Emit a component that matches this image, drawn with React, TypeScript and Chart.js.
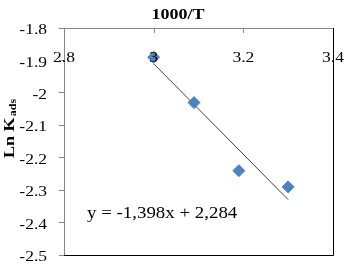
import React, { useEffect, useRef } from "react";
import { Chart, registerables } from "chart.js";

Chart.register(...registerables);

const xValues = [3.0, 3.09, 3.19, 3.3];
const yValues = [-1.89, -2.03, -2.24, -2.29];
const slope = -1.398;
const intercept = 2.284;
const equationText = "y = -1,398x + 2,284";
const xTickValues = [2.8, 3.0, 3.2, 3.4];
const xTickLabels = ["2.8", "3", "3.2", "3.4"];
const yTickValues = [-1.8, -1.9, -2.0, -2.1, -2.2, -2.3, -2.4, -2.5];
const yTickLabels = ["-1.8", "-1.9", "-2", "-2.1", "-2.2", "-2.3", "-2.4", "-2.5"];
const xTitle = "1000/T";
const yTitleMain = "Ln K";
const yTitleSub = "ads";

const FONT = "'Liberation Serif', 'Times New Roman', serif";
const GRAY = "#868686";
const STRETCH = 1.25;

function stretchedText(ctx: any, text: string, x: number, y: number, align: string, sx: number) {
  const w = ctx.measureText(text).width * sx;
  let left = x;
  if (align === "center") left = x - w / 2;
  else if (align === "right") left = x - w;
  ctx.save();
  ctx.translate(left, y);
  ctx.scale(sx, 1);
  ctx.textAlign = "left";
  ctx.fillText(text, 0, 0);
  ctx.restore();
}

const overlayPlugin = {
  id: "overlay",
  afterDraw(chart: any) {
    const { ctx, chartArea } = chart;
    const xs = chart.scales.x;
    const ys = chart.scales.y;
    const { left, top, right, bottom } = chartArea;
    ctx.save();
    // inward tick marks on the top axis
    ctx.strokeStyle = GRAY;
    ctx.lineWidth = 1;
    xTickValues.forEach((v) => {
      const px = Math.round(xs.getPixelForValue(v)) + 0.5;
      ctx.beginPath();
      ctx.moveTo(px, top);
      ctx.lineTo(px, top + 5);
      ctx.stroke();
    });
    // black right and bottom frame
    ctx.strokeStyle = "#000";
    ctx.beginPath();
    ctx.moveTo(Math.round(right) + 0.5, top);
    ctx.lineTo(Math.round(right) + 0.5, Math.round(bottom) + 0.5);
    ctx.lineTo(left, Math.round(bottom) + 0.5);
    ctx.stroke();
    ctx.fillStyle = "#000";
    ctx.textBaseline = "middle";
    // y tick labels
    ctx.font = `14px ${FONT}`;
    yTickValues.forEach((v, i) => {
      stretchedText(ctx, yTickLabels[i], 47, ys.getPixelForValue(v) + 2.5, "right", STRETCH);
    });
    // x tick labels, drawn inside the plot as in the original
    xTickValues.forEach((v, i) => {
      stretchedText(ctx, xTickLabels[i], xs.getPixelForValue(v), top + 30, "center", STRETCH);
    });
    // x title
    ctx.font = `bold 15px ${FONT}`;
    stretchedText(ctx, xTitle, 178, 15, "center", 1.2);
    // equation
    ctx.font = `16px ${FONT}`;
    ctx.textBaseline = "alphabetic";
    stretchedText(ctx, equationText, left + 23, 218, "left", 1.18);
    // y title
    ctx.translate(15, 129);
    ctx.rotate(-Math.PI / 2);
    ctx.scale(1.2, 1);
    ctx.textAlign = "left";
    ctx.font = `bold 15px ${FONT}`;
    const wMain = ctx.measureText(yTitleMain).width;
    ctx.font = `bold 10px ${FONT}`;
    const wSub = ctx.measureText(yTitleSub).width;
    const start = -(wMain + wSub) / 2;
    ctx.font = `bold 15px ${FONT}`;
    ctx.fillText(yTitleMain, start, -1);
    ctx.font = `bold 10px ${FONT}`;
    ctx.fillText(yTitleSub, start + wMain + 1, 1);
    ctx.restore();
  },
};

export default function App() {
  const ref = useRef<HTMLCanvasElement | null>(null);
  useEffect(() => {
    document.body.style.margin = "0";
    const xMin = Math.min(...xValues);
    const xMax = Math.max(...xValues);
    const chart = new Chart(ref.current as HTMLCanvasElement, {
      type: "scatter",
      data: {
        datasets: [
          {
            type: "line",
            data: [
              { x: xMin, y: slope * xMin + intercept },
              { x: xMax, y: slope * xMax + intercept },
            ],
            borderColor: "#404040",
            borderWidth: 1,
            pointRadius: 0,
            fill: false,
            order: 2,
          } as any,
          {
            data: xValues.map((x, i) => ({ x, y: yValues[i] })),
            pointStyle: "rectRot",
            pointRadius: 6,
            backgroundColor: "#4F81BD",
            borderColor: "#4F81BD",
            borderWidth: 1,
            order: 1,
          },
        ],
      },
      options: {
        animation: false,
        responsive: false,
        devicePixelRatio: 1,
        layout: { padding: { left: 0, top: 0, right: 19, bottom: 23 } },
        plugins: { legend: { display: false }, tooltip: { enabled: false } },
        scales: {
          x: {
            type: "linear",
            position: "top",
            min: 2.8,
            max: 3.4,
            grid: { display: false },
            border: { display: true, color: GRAY, width: 1 },
            ticks: { display: false, stepSize: 0.2 },
            afterFit(scale: any) {
              scale.height = 28;
            },
          },
          y: {
            type: "linear",
            min: -2.5,
            max: -1.8,
            grid: {
              display: true,
              drawOnChartArea: false,
              drawTicks: true,
              tickLength: 5,
              color: GRAY,
            },
            border: { display: true, color: GRAY, width: 1 },
            ticks: { stepSize: 0.1, display: false },
            afterFit(scale: any) {
              scale.width = 64;
            },
          },
        },
      },
      plugins: [overlayPlugin],
    } as any);
    return () => chart.destroy();
  }, []);
  return (
    <div style={{ position: "absolute", left: 0, top: 0, width: 352, height: 278, background: "#fff" }}>
      <canvas ref={ref} width={352} height={278} />
    </div>
  );
}
